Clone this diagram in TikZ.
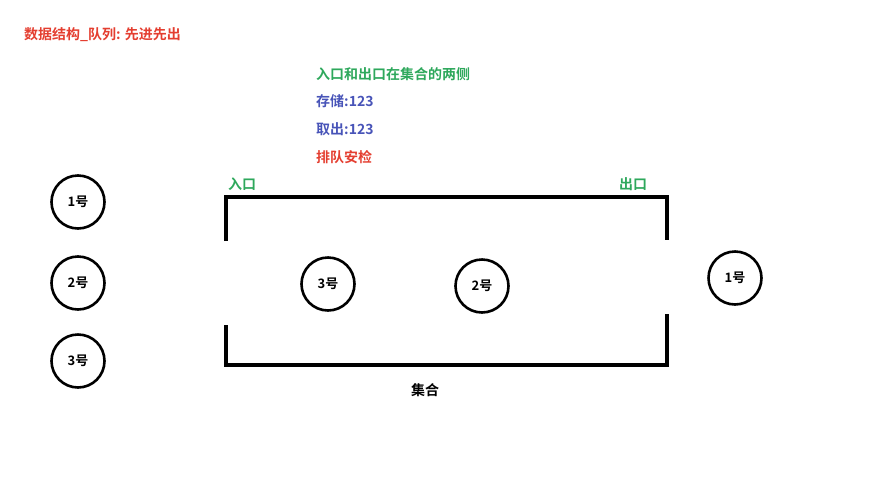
\documentclass[tikz,border=0pt]{standalone}
\usepackage{fontspec}
\usepackage{xcolor}
\usepackage{tikz}
\usetikzlibrary{positioning}
\newfontfamily\cjk{Noto Sans CJK SC}[BoldFont={Noto Sans CJK SC Bold}]
\definecolor{titre}{RGB}{228,62,48}
\definecolor{vert}{RGB}{46,168,92}
\definecolor{bleu}{RGB}{72,84,184}

\begin{document}
\begin{tikzpicture}[
			x=1pt, y=-1pt,
			texte/.style={anchor=west, inner sep=0pt, font=\cjk\bfseries\fontsize{14}{16}\selectfont},
			personne/.style={circle, draw, line width=2.6pt, minimum size=53pt, inner sep=0pt, font=\cjk\bfseries\fontsize{13}{15}\selectfont},
			mur/.style={line width=3.4pt}
			]
			\useasboundingbox (0,0) rectangle (889,480);

			% Les textes
			\node[texte, text=titre] (titre) at (24,35) {数据结构\_队列: 先进先出};
			\node[texte, text=vert] (regle) at (316,74) {入口和出口在集合的两侧};
			\node[texte, text=bleu] (stock) at (316,101) {存储:123};
			\node[texte, text=bleu] (sortie) at (316,129) {取出:123};
			\node[texte, text=titre] (exemple) at (316,157) {排队安检};
			\node[texte, text=vert] (entree) at (228,184) {入口};
			\node[texte, text=vert] (exit) at (619,184) {出口};
			\node[texte, anchor=center] (ens) at (425,390) {集合};

			% Le collectif
			\draw[mur] (226,241) -- (226,197) -- (667,197) -- (667,240);
			\draw[mur] (226,325) -- (226,365) -- (667,365) -- (667,314);

			% Les personnes
			\node[personne] (g1) at (78,202) {1号};
			\node[personne] (g2) at (78,283) {2号};
			\node[personne] (g3) at (78,361) {3号};
			\node[personne] (c3) at (328,284) {3号};
			\node[personne] (c2) at (482,286) {2号};
			\node[personne] (d1) at (735,278) {1号};
		\end{tikzpicture}
\end{document}
